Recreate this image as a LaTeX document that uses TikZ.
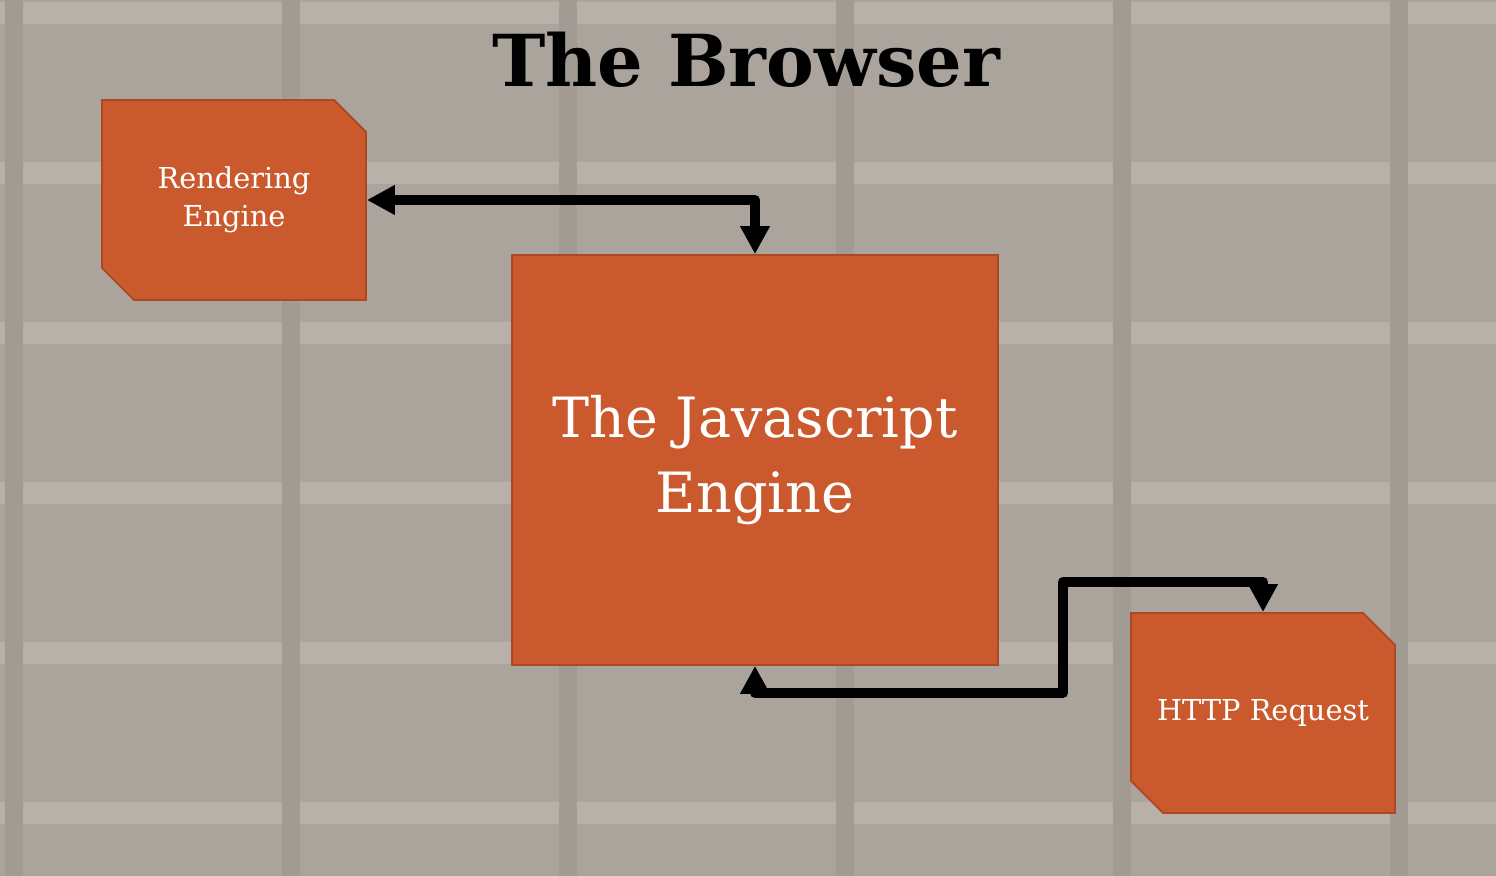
\documentclass[tikz,border=0pt]{standalone}
\usepackage{fontspec}
\setmainfont{DejaVu Serif}
\usetikzlibrary{arrows.meta,shapes.misc}

\definecolor{slate}{RGB}{170,164,156}
\definecolor{slatedark}{RGB}{161,155,147}
\definecolor{slatelight}{RGB}{200,195,187}
\definecolor{rust}{RGB}{202,90,45}
\definecolor{rustedge}{RGB}{172,72,36}

\begin{document}
\begin{tikzpicture}[
  x=1cm, y=1cm,
  every node/.style={inner sep=1pt},
  block/.style={chamfered rectangle, chamfered rectangle corners={north east, south west},
    chamfered rectangle xsep=0.16cm, chamfered rectangle ysep=0.16cm,
    fill=rust, draw=rustedge, line width=0.5pt, minimum width=2.64cm, minimum height=2.00cm,
    text=white, align=center, font=\fontsize{8.2}{10.8}\selectfont},
  core/.style={rectangle, fill=rust, draw=rustedge, line width=0.5pt,
    minimum width=4.86cm, minimum height=4.10cm,
    text=white, align=center, font=\fontsize{15.8}{21.3}\selectfont},
  title/.style={font=\bfseries\fontsize{20.4}{24}\selectfont},
  link/.style={draw, line width=0.1cm, line join=round,
    {Triangle[width=0.28cm,length=0.28cm]}-{Triangle[width=0.28cm,length=0.28cm]}}]

  % backdrop, tiled
  \fill[slate] (0,0) rectangle (14.96,-8.76);
  \foreach \k in {0,...,5}
    \fill[slatelight, opacity=0.45] (0,-1.60*\k-0.02) rectangle (14.96,-1.60*\k-0.24);
  \foreach \k in {0,...,5}
    \fill[slatedark] (2.77*\k+0.05,0) rectangle (2.77*\k+0.23,-8.76);
  \useasboundingbox (0,0) rectangle (14.96,-8.76);

  % title
  \node[title] (head) at (7.46,-0.60) {The Browser};

  % boxes
  \node[block] (render) at (2.34,-2.00) {Rendering\\Engine};
  \node[core]  (js)     at (7.55,-4.60) {The Javascript\\Engine};
  \node[block] (http)   at (12.63,-7.13) {HTTP Request};

  % bends of the lower connector
  \coordinate (low)  at (10.63,-6.93);
  \coordinate (high) at (10.63,-5.82);

  % connectors
  \draw[link] (render.east) -| (js.north);
  \draw[link] (js.south) |- (low) -- (high) -| (http.north);
\end{tikzpicture}
\end{document}
